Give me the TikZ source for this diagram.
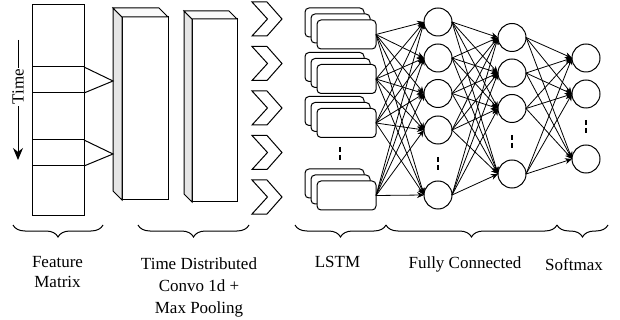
\documentclass[tikz,border=0pt]{standalone}
\usepackage{fontspec}
\setmainfont{Liberation Serif}
\usepackage{tikz}
\usetikzlibrary{arrows.meta}
\usetikzlibrary{calc}
\usetikzlibrary{decorations.pathreplacing}
\usetikzlibrary{positioning}
\tikzstyle{arrow} = [line width=0.8pt,-{Stealth[length=7pt,width=6pt]}]
\tikzstyle{timearrow} = [line width=1pt,-{Stealth[length=12pt,width=10pt]}]
\tikzstyle{featrow} = [
    rectangle, minimum width=52pt, minimum height=26pt, inner sep=0pt, outer sep=0pt,
    draw=black, line width=1pt]
\tikzstyle{convface} = [
    rectangle, minimum width=46pt, minimum height=183pt, inner sep=0pt, outer sep=0pt,
    draw=black, line width=1pt, fill=white]
\tikzstyle{convside} = [draw=black, line width=1pt, fill=gray!20]
\tikzstyle{convtop} = [draw=black, line width=1pt, fill=gray!4]
\tikzstyle{chevron} = [draw=black, line width=1pt, fill=white]
\tikzstyle{lstmcell} = [
    rectangle, rounded corners=4pt, minimum width=59pt, minimum height=29pt, outer sep=0pt,
    draw=black, line width=1pt, fill=white]
\tikzstyle{neuron} = [circle, minimum size=28pt, inner sep=0pt, outer sep=0pt, draw=black, line width=1pt]
\tikzstyle{dotline} = [line width=1.6pt, dash pattern=on 5pt off 3pt]
\tikzstyle{layerbrace} = [decorate, decoration={brace, mirror, amplitude=12pt}, line width=1pt]
\tikzstyle{layerlabel} = [align=center, anchor=north, inner sep=0pt, font=\fontsize{17}{22}\selectfont]

\begin{document}
\begin{tikzpicture}[x=1pt, y=-1pt]
\useasboundingbox (0,0) rectangle (620,320);

\node (featmat) [featrow, minimum height=210pt] at (58,110) {};
\node (row1) [featrow] at (58,80) {};
\node (row2) [featrow] at (58,153) {};
\coordinate (apex1) at (113,81);
\coordinate (apex2) at (113,154);

\coordinate (timestart) at (18,40);
\coordinate (timeend) at (18,160);
\draw [timearrow] (timestart) -- node[pos=0.39, rotate=90, fill=white, inner sep=1.5pt, font=\fontsize{17}{20}\selectfont] {Time} (timeend);

\node (conv1) [convface] at (145,108.5) {};
\draw [convside] (conv1.north west) -- ++(-9,-9) -- ($(conv1.south west)+(-9,-9)$) -- (conv1.south west) -- cycle;
\draw [convtop] (conv1.north west) -- ++(-9,-9) -- ($(conv1.north east)+(-9,-9)$) -- (conv1.north east) -- cycle;

\node (conv2) [convface, minimum width=45pt] at (214.5,110.5) {};
\draw [convside] (conv2.north west) -- ++(-8,-8) -- ($(conv2.south west)+(-8,-8)$) -- (conv2.south west) -- cycle;
\draw [convtop] (conv2.north west) -- ++(-8,-8) -- ($(conv2.north east)+(-8,-8)$) -- (conv2.north east) -- cycle;

\draw [line width=1pt] (row1.north east) -- (apex1) -- (row1.south east);
\draw [line width=1pt] (row2.north east) -- (apex2) -- (row2.south east);

\foreach \cy in {19,63.5,108,152.5,197}
    \draw [chevron] (252,{\cy-17}) -- (267,{\cy-17}) -- (282,\cy) -- (267,{\cy+17})
        -- (252,{\cy+17}) -- (267.5,\cy) -- cycle;

\foreach \n/\cy in {1/34.5,2/79,3/123,4/195.5} {
    \node (lstm\n c) [lstmcell] at (334.5,{\cy-12}) {};
    \node (lstm\n b) [lstmcell] at (340.5,{\cy-6}) {};
    \node (lstm\n) [lstmcell] at (346.5,\cy) {};
}

\foreach \n/\cy in {1/22,2/58,3/93.5,4/130,5/195}
    \node (fca\n) [neuron] at (438,\cy) {};
\foreach \n/\cy in {1/37.5,2/73,3/108.5,4/174}
    \node (fcb\n) [neuron] at (512,\cy) {};
\foreach \n/\cy in {1/58,2/94,3/159}
    \node (soft\n) [neuron] at (586,\cy) {};

\foreach \i in {1,...,4}
    \foreach \j in {1,...,5}
        \draw [arrow] (lstm\i.east) -- (fca\j.west);
\foreach \i in {1,...,5}
    \foreach \j in {1,...,4}
        \draw [arrow] (fca\i.east) -- (fcb\j.west);
\foreach \i in {1,...,4}
    \foreach \j in {1,...,3}
        \draw [arrow] (fcb\i.east) -- (soft\j.west);

\coordinate (lstmdotstop) at (340,147);
\coordinate (lstmdotsbot) at (340,160);
\coordinate (fcadotstop) at (438,157);
\coordinate (fcadotsbot) at (438,170);
\coordinate (fcbdotstop) at (512,135);
\coordinate (fcbdotsbot) at (512,148);
\coordinate (softdotstop) at (586,120);
\coordinate (softdotsbot) at (586,133);
\draw [dotline] (lstmdotstop) -- (lstmdotsbot);
\draw [dotline] (fcadotstop) -- (fcadotsbot);
\draw [dotline] (fcbdotstop) -- (fcbdotsbot);
\draw [dotline] (softdotstop) -- (softdotsbot);

\coordinate (featbl) at (13,225);
\coordinate (featbr) at (103,225);
\coordinate (convbl) at (138,225);
\coordinate (convbr) at (249,225);
\coordinate (lstmbl) at (295,225);
\coordinate (lstmbr) at (386,225);
\coordinate (fcbr) at (557,225);
\coordinate (softbr) at (608,225);
\draw [layerbrace] (featbl) -- (featbr);
\draw [layerbrace] (convbl) -- (convbr);
\draw [layerbrace] (lstmbl) -- (lstmbr);
\draw [layerbrace] (lstmbr) -- (fcbr);
\draw [layerbrace] (fcbr) -- (softbr);

\node (featlabel) [layerlabel, font=\fontsize{17}{20.5}\selectfont] at (57.5,255.7) {Feature\\Matrix};
\node (convlabel) [layerlabel] at (199,257.4) {Time Distributed\\Convo 1d +\\Max Pooling};
\node (lstmlabel) [layerlabel] at (337.5,256.5) {LSTM};
\node (fclabel) [layerlabel] at (465,256.5) {Fully Connected};
\node (softlabel) [layerlabel] at (574,258.4) {Softmax};
\end{tikzpicture}
\end{document}
